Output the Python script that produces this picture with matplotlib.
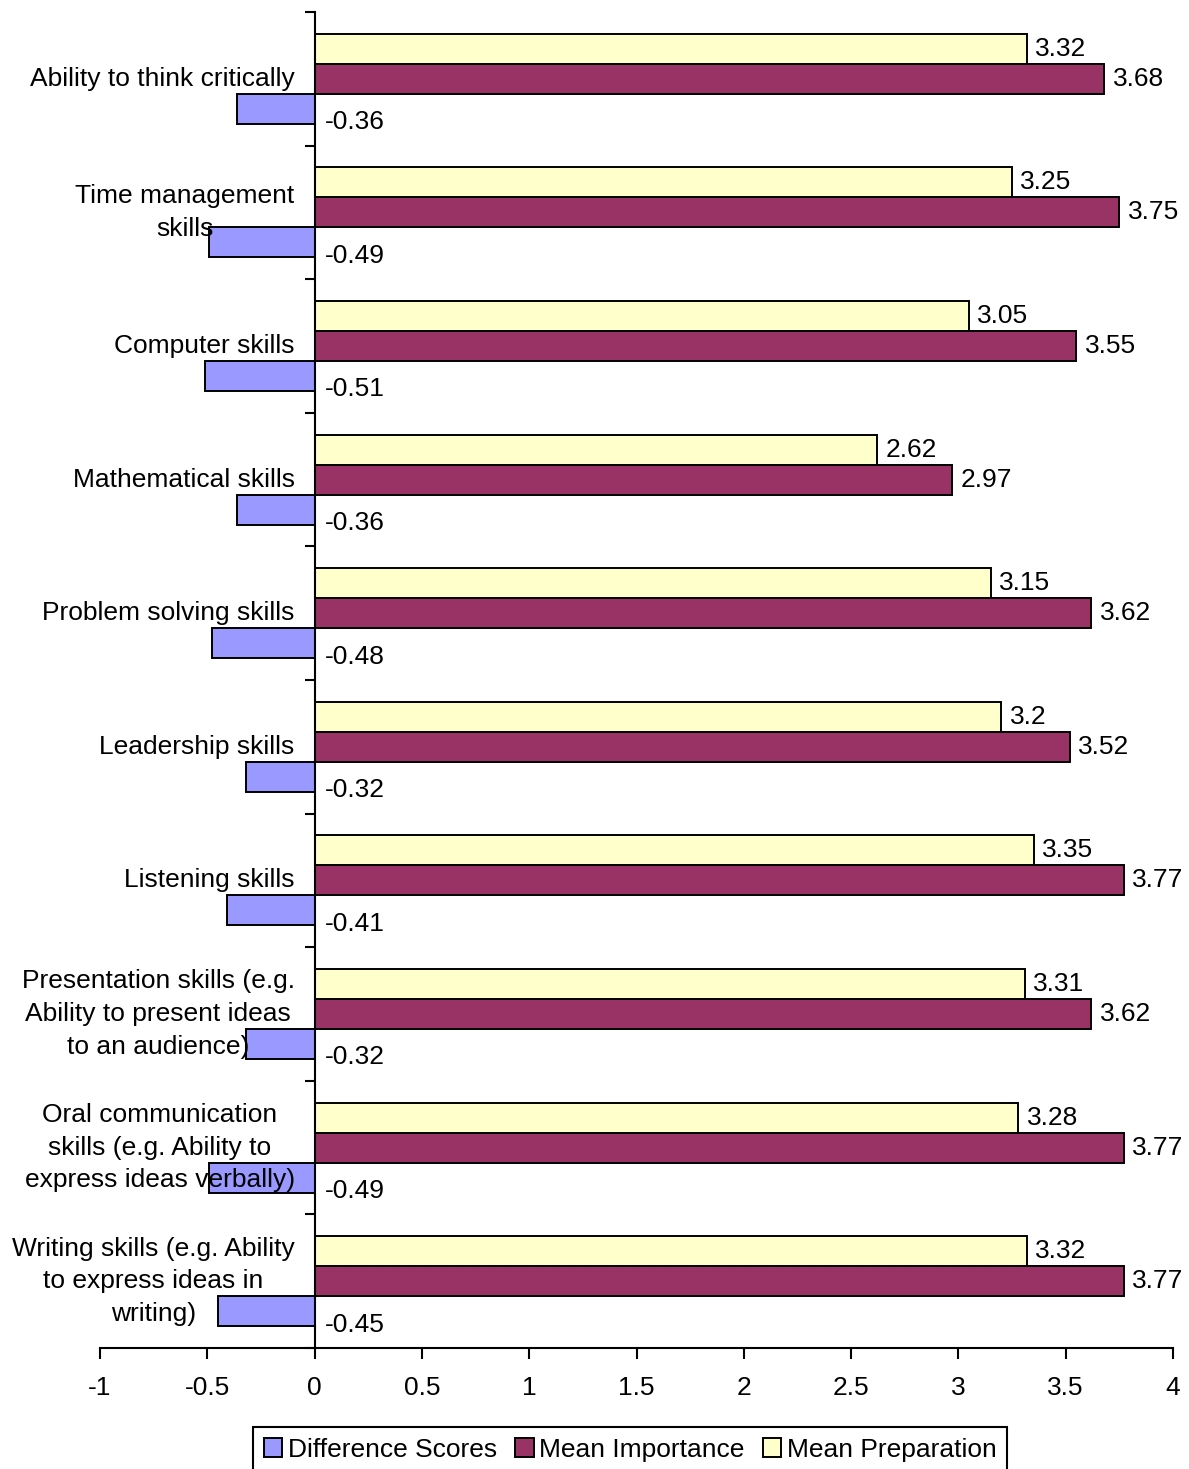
import matplotlib
matplotlib.use('Agg')
import matplotlib.pyplot as plt
import numpy as np

categories = [
    "Ability to think critically",
    "Time management\nskills",
    "Computer skills",
    "Mathematical skills",
    "Problem solving skills",
    "Leadership skills",
    "Listening skills",
    "Presentation skills (e.g.\nAbility to present ideas\nto an audience)",
    "Oral communication\nskills (e.g. Ability to\nexpress ideas verbally)",
    "Writing skills (e.g. Ability\nto express ideas in\nwriting)",
]
difference = [-0.36, -0.49, -0.51, -0.36, -0.48, -0.32, -0.41, -0.32, -0.49, -0.45]
importance = [3.68, 3.75, 3.55, 2.97, 3.62, 3.52, 3.77, 3.62, 3.77, 3.77]
preparation = [3.32, 3.25, 3.05, 2.62, 3.15, 3.2, 3.35, 3.31, 3.28, 3.32]
series_names = ["Difference Scores", "Mean Importance", "Mean Preparation"]
xticks = [-1, -0.5, 0, 0.5, 1, 1.5, 2, 2.5, 3, 3.5, 4]
xtick_labels = ["-1", "-0.5", "0", "0.5", "1", "1.5", "2", "2.5", "3", "3.5", "4"]

plt.rcParams['font.family'] = ['Liberation Sans', 'DejaVu Sans']
FS = 19

fig = plt.figure(figsize=(11.89, 14.69), dpi=100)
ax = fig.add_axes([100/1189, 1 - 1348/1469, (1173-100)/1189, (1348-12)/1469])

n = len(categories)
y = np.arange(n)
h = 0.225
col_diff, col_imp, col_prep = '#9999FF', '#993366', '#FFFFCC'
kw = dict(height=h, edgecolor='black', linewidth=1.4)

b_diff = ax.barh(y + h, difference, color=col_diff, label=series_names[0], **kw)
b_imp = ax.barh(y, importance, color=col_imp, label=series_names[1], **kw)
b_prep = ax.barh(y - h, preparation, color=col_prep, label=series_names[2], **kw)

ax.set_ylim(n - 0.5, -0.5)
ax.set_xlim(-1, 4)

# value labels
for yi, v in zip(y, preparation):
    ax.annotate(f"{v:g}", (v, yi - h), xytext=(6, 0), textcoords='offset points',
                ha='left', va='center', fontsize=FS)
for yi, v in zip(y, importance):
    ax.annotate(f"{v:g}", (v, yi), xytext=(6, 0), textcoords='offset points',
                ha='left', va='center', fontsize=FS)
for yi, v in zip(y, difference):
    ax.text(0.05, yi + 0.325, f"{v:g}", ha='left', va='center', fontsize=FS)

# category labels
for yi, c in zip(y, categories):
    ax.text(-0.093, yi, c, ha='right', va='center', multialignment='center',
            fontsize=FS, linespacing=1.45, zorder=5)

# spines
for s in ['top', 'right']:
    ax.spines[s].set_visible(False)
ax.spines['left'].set_position(('data', 0))
ax.spines['left'].set_linewidth(1.5)
ax.spines['bottom'].set_linewidth(1.5)

ax.set_yticks(np.arange(n + 1) - 0.5)
ax.set_yticklabels([])
ax.tick_params(axis='y', direction='out', length=7, width=1.5)
ax.set_xticks(xticks)
ax.set_xticklabels(xtick_labels, fontsize=FS)
ax.tick_params(axis='x', direction='out', length=8, width=1.5, pad=12)

leg = fig.legend(handles=[b_diff, b_imp, b_prep], loc='upper center',
                 bbox_to_anchor=(0.530, 1 - 1427/1469), ncol=3, fontsize=FS,
                 frameon=True, fancybox=False, framealpha=1, edgecolor='black',
                 handlelength=0.7, handleheight=0.7, handletextpad=0.2,
                 columnspacing=0.7, borderpad=0.4, borderaxespad=0)
leg.get_frame().set_linewidth(1.5)

fig.savefig('out.png', dpi=100)
